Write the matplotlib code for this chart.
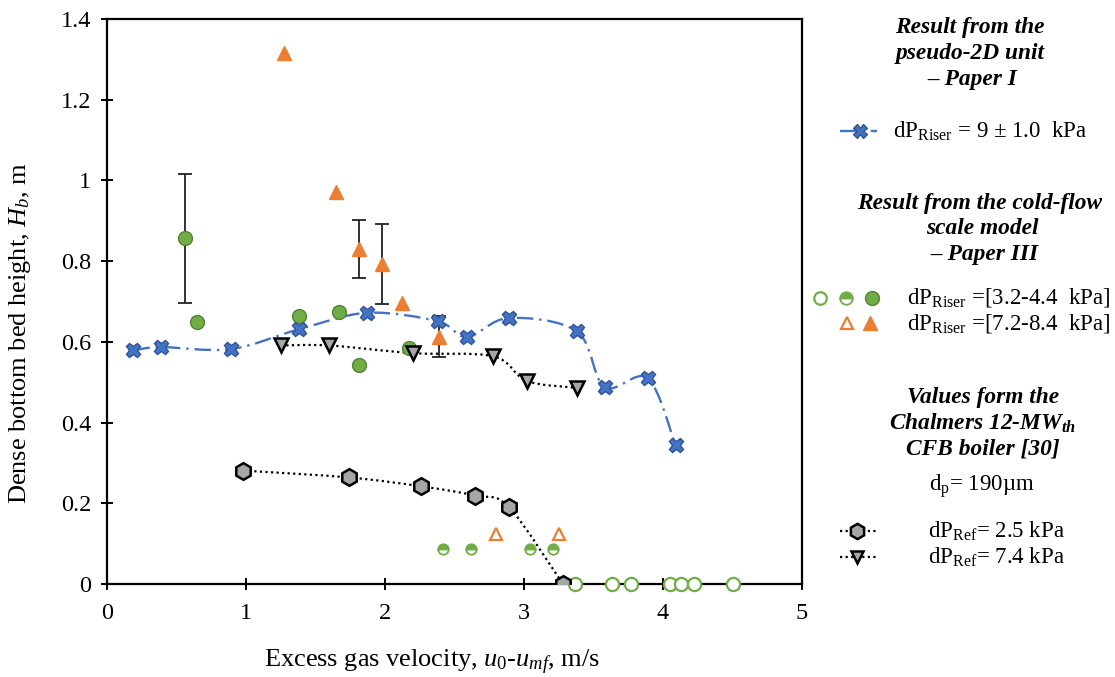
import numpy as np
import matplotlib
matplotlib.use('Agg')
import matplotlib.pyplot as plt
from matplotlib.path import Path
from matplotlib.patches import PathPatch
from matplotlib.lines import Line2D

plt.rcParams['font.family'] = ['Liberation Serif', 'DejaVu Serif']
plt.rcParams['mathtext.fontset'] = 'custom'
plt.rcParams['mathtext.rm'] = 'Liberation Serif'
plt.rcParams['mathtext.it'] = 'Liberation Serif:italic'
plt.rcParams['mathtext.bf'] = 'Liberation Serif:bold'
plt.rcParams['mathtext.bfit'] = 'Liberation Serif:italic:bold'

# pseudo-2D unit, Paper I
p2d_x = [0.19, 0.39, 0.89, 1.38, 1.87, 2.38, 2.59, 2.89, 3.38, 3.58, 3.89, 4.09]
p2d_y = [0.579, 0.587, 0.582, 0.631, 0.672, 0.651, 0.612, 0.659, 0.626, 0.488, 0.510, 0.344]

# Chalmers boiler reference
ref25_x = [0.98, 1.74, 2.26, 2.65, 2.89, 3.28]
ref25_y = [0.281, 0.264, 0.242, 0.219, 0.191, 0.0]
ref74_x = [1.25, 1.60, 2.20, 2.78, 3.02, 3.38]
ref74_y = [0.591, 0.591, 0.572, 0.564, 0.503, 0.486]

# cold-flow scale model, Paper III, dP 3.2-4.4 kPa
cf1_full_x = [0.56, 0.65, 1.38, 1.67, 1.81, 2.17]
cf1_full_y = [0.857, 0.649, 0.663, 0.674, 0.542, 0.585]
cf1_full_err = [0.16, 0, 0, 0, 0, 0]
cf1_half_x = [2.42, 2.62, 3.04, 3.21]
cf1_half_y = [0.086, 0.086, 0.086, 0.086]
cf1_open_x = [3.37, 3.63, 3.77, 4.05, 4.13, 4.22, 4.50]
cf1_open_y = [0, 0, 0, 0, 0, 0, 0]

# dP 7.2-8.4 kPa
cf2_full_x = [1.27, 1.65, 1.81, 1.98, 2.12, 2.39]
cf2_full_y = [1.316, 0.972, 0.830, 0.793, 0.696, 0.613]
cf2_full_err = [0, 0, 0.073, 0.1, 0, 0.05]
cf2_open_x = [2.80, 3.25]
cf2_open_y = [0.125, 0.125]

blue, blue_e = '#4472C4', '#2F5597'
green, green_e = '#70AD47', '#548235'
orange = '#ED7D31'
grey = '#A6A6A6'


def smooth_path(x, y):
    """Excel-like smoothed curve through the points (cubic Bezier)."""
    pts = np.column_stack([x, y]).astype(float)
    n = len(pts)
    verts = [pts[0]]
    codes = [Path.MOVETO]
    for i in range(n - 1):
        p0 = pts[i - 1] if i > 0 else pts[i]
        p1, p2 = pts[i], pts[i + 1]
        p3 = pts[i + 2] if i + 2 < n else pts[i + 1]
        verts += [p1 + (p2 - p0) / 6, p2 - (p3 - p1) / 6, p2]
        codes += [Path.CURVE4] * 3
    return Path(verts, codes)


def with_err(x, y, e):
    keep = [i for i in range(len(e)) if e[i] > 0]
    return [x[i] for i in keep], [y[i] for i in keep], [e[i] for i in keep]


fig = plt.figure(figsize=(11.15, 6.77), dpi=100)
ax = fig.add_axes([107 / 1115, 1 - 584 / 677, 695 / 1115, 565 / 677])

dashdot = (0, (7, 2.5, 1, 2.5))
dotted = (0, (1, 1.5))

ax.add_patch(PathPatch(smooth_path(p2d_x, p2d_y), fill=False, ec=blue, lw=1.7,
                       ls=dashdot, zorder=2))
ax.add_patch(PathPatch(smooth_path(ref25_x, ref25_y), fill=False, ec='black', lw=1.6,
                       ls=dotted, zorder=2))
ax.add_patch(PathPatch(smooth_path(ref74_x, ref74_y), fill=False, ec='black', lw=1.6,
                       ls=dotted, zorder=2))

for ex, ey, ee in [with_err(cf1_full_x, cf1_full_y, cf1_full_err),
                   with_err(cf2_full_x, cf2_full_y, cf2_full_err)]:
    ax.errorbar(ex, ey, yerr=ee, fmt='none', ecolor='#222222',
                elinewidth=1.3, capsize=5, capthick=1.3, zorder=2.5)

ax.plot(p2d_x, p2d_y, ls='none', marker='X', ms=10.5, mfc=blue, mec=blue_e, mew=1, zorder=4)
ax.plot(ref25_x, ref25_y, ls='none', marker='h', ms=12, mfc=grey, mec='black', mew=1.8, zorder=4)
ax.plot(ref74_x, ref74_y, ls='none', marker='v', ms=10, mfc=grey, mec='black', mew=1.8, zorder=4)
ax.plot(cf1_full_x, cf1_full_y, ls='none', marker='o', ms=10, mfc=green, mec=green_e, mew=1, zorder=3)
ax.plot(cf1_half_x, cf1_half_y, ls='none', marker='o', ms=7.5, fillstyle='top', mfc=green,
        mfcalt='white', mec=green, mew=1.3, zorder=3)
ax.plot(cf1_open_x, cf1_open_y, ls='none', marker='o', ms=9.5, mfc='white', mec=green,
        mew=1.6, zorder=3, clip_on=False)
ax.plot(cf2_full_x, cf2_full_y, ls='none', marker='^', ms=10, mfc=orange, mec=orange, mew=1, zorder=3)
ax.plot(cf2_open_x, cf2_open_y, ls='none', marker='^', ms=9, mfc='white', mec=orange, mew=1.6, zorder=3)

ax.set_xlim(0, 5)
ax.set_ylim(0, 1.4)
ax.set_xticks([0, 1, 2, 3, 4, 5])
ax.set_yticks([0, 0.2, 0.4, 0.6, 0.8, 1.0, 1.2, 1.4])
ax.set_yticklabels(['0', '0.2', '0.4', '0.6', '0.8', '1', '1.2', '1.4'])
ax.tick_params(direction='inout', length=9, width=1.4, labelsize=17.5, pad=7, color='black')
ax.tick_params(axis='x', pad=9)
for s in ax.spines.values():
    s.set_linewidth(1.6)

ax.set_xlabel(r'Excess gas velocity, $u_{0}$-$u_{mf}$, m/s', fontsize=19)
ax.set_ylabel(r'Dense bottom bed height, $H_{b}$, m', fontsize=19)
ax.xaxis.set_label_coords((432 - 107) / 695, (584 - 662) / 565)
ax.yaxis.set_label_coords((20 - 107) / 695, (584 - 333) / 565)
ax.xaxis.label.set_va('center')
ax.yaxis.label.set_va('center')


def ftext(px, py, s, **kw):
    fig.text(px / 1115, 1 - py / 677, s, va='center', **kw)


def fmark(px, py, **kw):
    fig.add_artist(Line2D([px / 1115], [1 - py / 677], ls='none', transform=fig.transFigure, **kw))


def fline(px0, px1, py, **kw):
    fig.add_artist(Line2D([px0 / 1115, px1 / 1115], [1 - py / 677] * 2, transform=fig.transFigure, **kw))


head = dict(ha='center', fontsize=16.8, fontweight='bold', style='italic')
lab = 16.5
ftext(970, 28, 'Result from the', **head)
ftext(970, 54, 'pseudo-2D unit', **head)
ftext(972, 80, '– Paper I', **head)

fline(840, 877, 131, color=blue, lw=1.7, ls=dashdot)
fmark(860, 131, marker='X', ms=10, mfc=blue, mec=blue_e, mew=1)
ftext(893, 131, r'dP$_{\mathrm{Riser}}$ = 9 ± 1.0  kPa', fontsize=lab)

ftext(980, 203, 'Result from the cold-flow', **head)
ftext(982, 229, 'scale model', **head)
ftext(984, 255, '– Paper III', **head)

fmark(820, 298, marker='o', ms=9, mfc='white', mec=green, mew=1.6)
fmark(846, 298, marker='o', ms=9, fillstyle='top', mfc=green, mfcalt='white', mec=green, mew=1.3)
fmark(872, 298, marker='o', ms=10, mfc=green, mec=green_e, mew=1)
ftext(907, 298, r'dP$_{\mathrm{Riser}}$ =[3.2-4.4  kPa]', fontsize=lab)
fmark(847, 323, marker='^', ms=9, mfc='white', mec=orange, mew=1.6)
fmark(870, 323, marker='^', ms=10, mfc=orange, mec=orange)
ftext(907, 323, r'dP$_{\mathrm{Riser}}$ =[7.2-8.4  kPa]', fontsize=lab)

ftext(983, 397, 'Values form the', **head)
ftext(983, 423, r'Chalmers 12-MW$_{\mathbfit{th}}$', **head)
ftext(983, 449, 'CFB boiler [30]', **head)
ftext(982, 486, r'd$_{\mathrm{p}}$= 190µm', ha='center', fontsize=lab)

fline(840, 877, 531, color='black', lw=1.6, ls=dotted)
fmark(857, 531, marker='h', ms=11, mfc=grey, mec='black', mew=1.8)
ftext(928, 531, r'dP$_{\mathrm{Ref}}$= 2.5 kPa', fontsize=lab)
fline(840, 877, 557, color='black', lw=1.6, ls=dotted)
fmark(857, 557, marker='v', ms=9, mfc=grey, mec='black', mew=1.8)
ftext(928, 557, r'dP$_{\mathrm{Ref}}$= 7.4 kPa', fontsize=lab)

fig.savefig('out.png', dpi=100)
